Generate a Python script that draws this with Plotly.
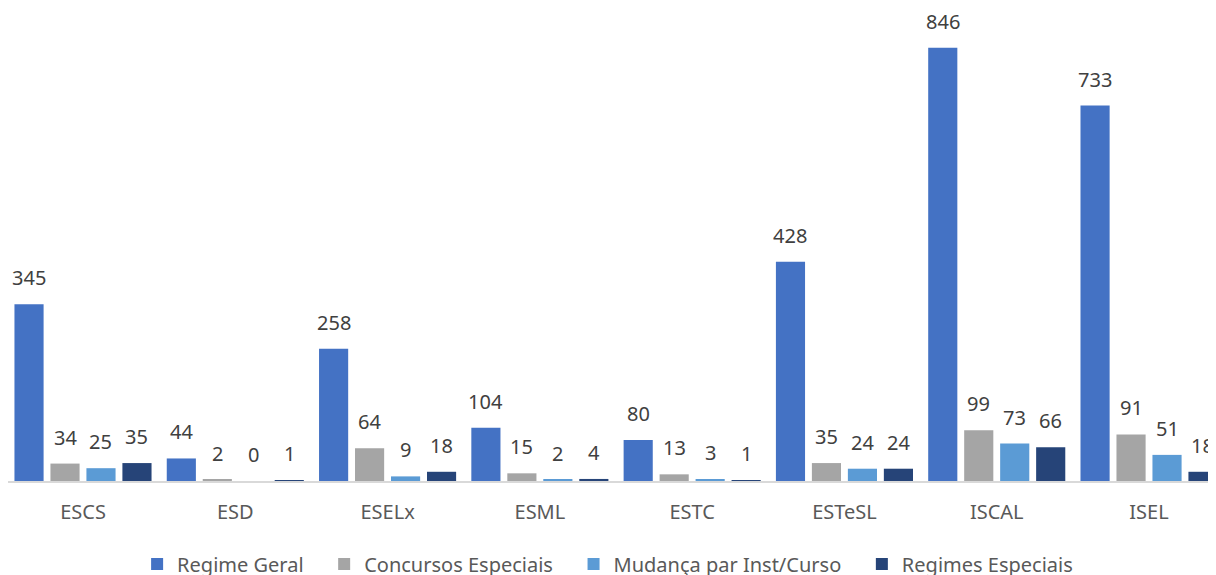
import plotly.graph_objects as go

categories = ["ESCS", "ESD", "ESELx", "ESML", "ESTC", "ESTeSL", "ISCAL", "ISEL"]
regime_geral = [345, 44, 258, 104, 80, 428, 846, 733]
concursos_especiais = [34, 2, 64, 15, 13, 35, 99, 91]
mudanca = [25, 0, 9, 2, 3, 24, 73, 51]
regimes_especiais = [35, 1, 18, 4, 1, 24, 66, 18]

series_names = ["Regime Geral", "Concursos Especiais", "Mudança par Inst/Curso", "Regimes Especiais"]
series_values = [regime_geral, concursos_especiais, mudanca, regimes_especiais]
series_colors = ["#4472C4", "#A5A5A5", "#5B9BD5", "#264478"]

FONT = "Noto Sans"
W, H = 1216, 575
BAND_PX = 152.29          # pixel width of one category band
FIRST_CENTER_PX = 75      # pixel position of first category center
BARGAP, BARGROUPGAP = 0.055, 0.19
PAD = "\u00a0" * 3

fig = go.Figure()
n = len(series_names)
slot_px = BAND_PX * (1 - BARGAP) / n
annotations = []
for i, (name, vals, color) in enumerate(zip(series_names, series_values, series_colors)):
    label = name + (PAD if i < n - 1 else "")
    fig.add_trace(go.Bar(
        x=categories, y=vals, name=label,
        marker=dict(color=color, line=dict(width=0)),
        hovertemplate=name + ": %{y}<extra></extra>",
    ))
    offset = (i - (n - 1) / 2) * slot_px
    for c, v in zip(categories, vals):
        annotations.append(dict(
            x=c, y=v, xref="x", yref="y", text=str(v), showarrow=False,
            xshift=offset, yshift=11, yanchor="bottom", xanchor="center",
            font=dict(family=FONT, size=20, color="#404040"),
        ))

x0 = -FIRST_CENTER_PX / BAND_PX
fig.update_layout(
    width=W, height=H,
    margin=dict(l=0, r=0, t=12, b=102),
    paper_bgcolor="white", plot_bgcolor="white",
    barmode="group", bargap=BARGAP, bargroupgap=BARGROUPGAP,
    font=dict(family=FONT, color="#595959"),
    xaxis=dict(range=[x0, x0 + W / BAND_PX], showgrid=False, showline=True,
               linecolor="#D9D9D9", linewidth=1.5, ticks="", ticklabelstandoff=12,
               tickfont=dict(family=FONT, size=20, color="#595959")),
    yaxis=dict(range=[0, 900], visible=False, showgrid=False),
    showlegend=True,
    legend=dict(orientation="h", xref="container", x=0.4931, xanchor="center",
                yref="container", y=1 - 556 / H, yanchor="middle",
                font=dict(family=FONT, size=20, color="#595959"),
                itemwidth=30, traceorder="normal"),
    annotations=annotations,
)

fig.write_html("out.html")
